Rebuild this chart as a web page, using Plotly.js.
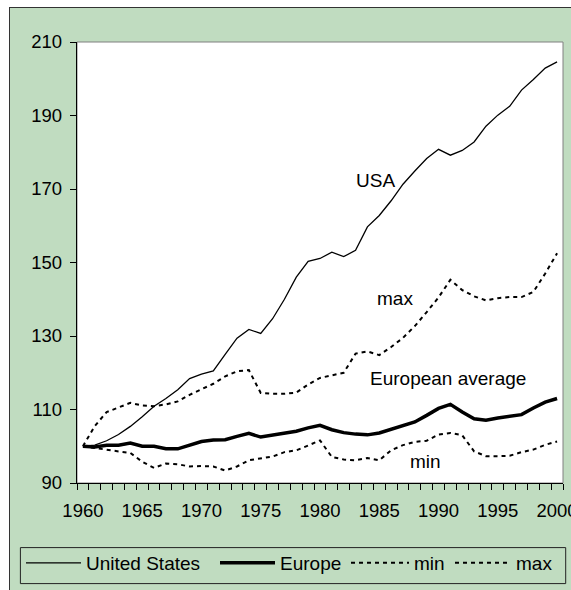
<!DOCTYPE html>
<html>
<head>
<meta charset="utf-8">
<script src="https://cdn.plot.ly/plotly-3.0.1.min.js"></script>
<style>
  html, body { margin: 0; padding: 0; background: #ffffff; width: 571px; height: 590px; overflow: hidden; }
  #frame { position: absolute; left: 9px; top: 7px; width: 600px; height: 620px; border-left: 1px solid #333; border-top: 1px solid #333; overflow: hidden; }
  #chart { position: absolute; left: 0; top: 0; }
</style>
</head>
<body>
<div id="frame"><div id="chart"></div></div>
<script>
// ---- data ----
const years = [];
for (let y = 1960; y <= 2000; y++) years.push(y);

const usa = [100, 100.3, 101.5, 103.2, 105.4, 108, 110.9, 113, 115.4, 118.4,
             119.6, 120.5, 125, 129.4, 131.8, 130.7, 134.7, 140, 146, 150.3,
             151.1, 152.8, 151.6, 153.3, 159.7, 162.8, 166.8, 171.3, 174.9, 178.3,
             180.8, 179.2, 180.5, 182.8, 187.1, 190.1, 192.5, 196.9, 199.8, 202.9,
             204.6];

const europe = [100, 99.8, 100.3, 100.3, 100.9, 100, 100, 99.3, 99.3, 100.2,
                101.3, 101.7, 101.8, 102.7, 103.5, 102.5, 103, 103.4, 104.1, 105,
                105.7, 104.5, 103.7, 103.3, 103.1, 103.6, 104.6, 105.4, 106.6, 108.4,
                110.3, 111.4, 109.3, 107.5, 107.1, 107.7, 108.2, 108.6, 110.4, 112,
                113];

const minSeries = [100, 99.5, 98.9, 98.6, 98.2, 95.8, 94.1, 95.3, 95.1, 94.5,
                   94.6, 94.5, 93.4, 94.5, 96.2, 96.8, 97.2, 98.4, 98.9, 100.2,
                   101.6, 97.1, 96.4, 96.2, 96.8, 96.2, 98.9, 100.3, 101.2, 101.5,
                   103.2, 103.6, 103, 98.6, 97.3, 97.3, 97.4, 98.4, 99.1, 100.4,
                   101.3];

const maxSeries = [100, 105.5, 109.3, 110.5, 111.8, 111.1, 110.9, 111.4, 112.2, 114,
                   115.4, 117, 119, 120.4, 120.7, 114.5, 114.3, 114.3, 114.6, 116.8,
                   118.6, 119.3, 120, 125.2, 125.8, 124.8, 127, 129.5, 132.7, 136.5,
                   140.5, 145.3, 142.5, 140.8, 139.7, 140.3, 140.6, 140.6, 142, 147,
                   152.5];

const seriesNames = ["United States", "Europe", "min", "max"];

// in-chart labels
const labelText = ["USA", "max", "European average", "min"];
const labelX = [1984.7, 1986.3, 1990.8, 1988.9];
const labelY = [172.4, 140.3, 118.5, 95.9];

const green = "#c0dcc0";
const fontFam = "'Liberation Sans', Arial, sans-serif";
const dotDash = "4px,4px";

const traces = [
  { x: years, y: usa, name: seriesNames[0], type: "scatter", mode: "lines", legend: "legend",
    line: { color: "#000", width: 1.3 } },
  { x: years, y: europe, name: seriesNames[1], type: "scatter", mode: "lines", legend: "legend2",
    line: { color: "#000", width: 3.5 } },
  { x: years, y: minSeries, name: seriesNames[2], type: "scatter", mode: "lines", legend: "legend3",
    line: { color: "#000", width: 2, dash: dotDash } },
  { x: years, y: maxSeries, name: seriesNames[3], type: "scatter", mode: "lines", legend: "legend4",
    line: { color: "#000", width: 2, dash: dotDash } }
];

const W = 561, H = 582;
const OX = 10, OY = 8;          // page offset of the chart div

function legendAt(pageLeft, itemW) {
  return {
    orientation: "h",
    xref: "container", yref: "container",
    x: (pageLeft - OX) / W, y: 1 - (563 - OY) / H,
    xanchor: "left", yanchor: "middle",
    bgcolor: "rgba(0,0,0,0)", borderwidth: 0,
    font: { family: fontFam, size: 19, color: "#000" },
    itemwidth: itemW
  };
}

// plot area in page pixels: x 77.3..563.3, y 41.7..482.7
const pL = 77.3, pW = 486, pT = 41.7, pH = 441;
const px = v => (v - pL) / pW;
const py = v => (pT + pH - v) / pH;

const layout = {
  width: W, height: H,
  paper_bgcolor: green,
  plot_bgcolor: "#ffffff",
  margin: { l: 67.3, r: 7.7, t: 33.7, b: 107.3, pad: 0 },
  font: { family: fontFam, color: "#000", size: 18.5 },
  showlegend: true,
  legend: legendAt(21, 55),
  legend2: legendAt(215, 55),
  legend3: legendAt(346, 58),
  legend4: legendAt(450, 56),
  xaxis: {
    range: [1959.5, 2000.5],
    tickmode: "linear", tick0: 1960, dtick: 5,
    ticks: "outside", ticklen: 10, tickcolor: "rgba(0,0,0,0)",
    ticklabeloverflow: "allow",
    showline: true, linecolor: "#000", linewidth: 1.3,
    showgrid: false, zeroline: false,
    tickfont: { family: fontFam, size: 18.5, color: "#000" },
    minor: { tick0: 1959.5, dtick: 1, ticks: "outside", ticklen: 6, tickcolor: "#000", tickwidth: 1, showgrid: false },
    fixedrange: true
  },
  yaxis: {
    range: [90, 210],
    tickmode: "linear", tick0: 90, dtick: 20,
    ticks: "outside", ticklen: 6, tickcolor: "#000", tickwidth: 1,
    ticklabelstandoff: 4,
    showline: true, linecolor: "#000", linewidth: 1.3,
    showgrid: false, zeroline: false,
    tickfont: { family: fontFam, size: 18.5, color: "#000" },
    fixedrange: true
  },
  shapes: [
    { type: "rect", xref: "paper", yref: "paper", x0: 0, x1: 1, y0: 0, y1: 1,
      line: { color: "#808080", width: 1 }, layer: "below" },
    // legend frame
    { type: "rect", xref: "paper", yref: "paper",
      x0: px(20.7), x1: px(566), y0: py(583.3), y1: py(547.3),
      line: { color: "#222", width: 1 }, fillcolor: "rgba(0,0,0,0)", layer: "below" }
  ],
  annotations: labelText.map((t, i) => ({
    x: labelX[i], y: labelY[i], xref: "x", yref: "y",
    text: t, showarrow: false, xanchor: "center", yanchor: "middle",
    font: { family: fontFam, size: 19, color: "#000" }
  }))
};

Plotly.newPlot("chart", traces, layout, { displayModeBar: false, staticPlot: true });
</script>
</body>
</html>
